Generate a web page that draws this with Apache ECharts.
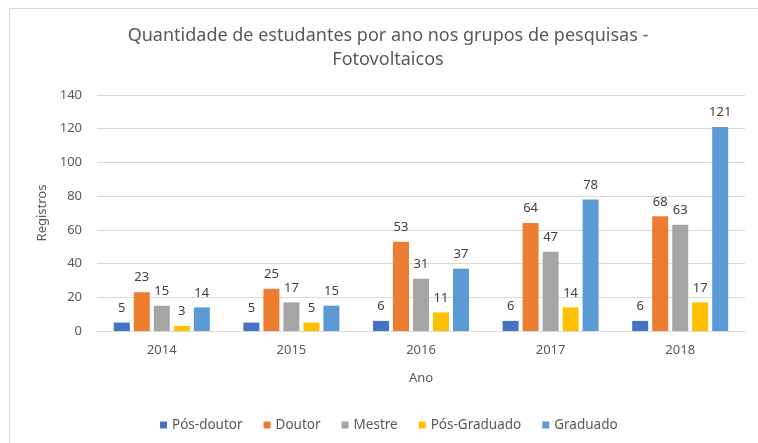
<!DOCTYPE html>
<html lang="pt">
<head>
    <meta charset="UTF-8">
    <script src="https://cdn.jsdelivr.net/npm/echarts@6/dist/echarts.min.js"></script>
    <title>Fotovoltaicos</title>
    <style type="text/css">
        body { margin: 0; background: #fff; }
        #chart { width: 758px; height: 443px; }
    </style>
</head>
<body>
<div id="chart"></div>
<script type="text/javascript">
    // dados
    const anos = ['2014', '2015', '2016', '2017', '2018'];
    const posDoutor = [5, 5, 6, 6, 6];
    const doutor = [23, 25, 53, 64, 68];
    const mestre = [15, 17, 31, 47, 63];
    const posGraduado = [3, 5, 11, 14, 17];
    const graduado = [14, 15, 37, 78, 121];

    const nomes = ['Pós-doutor', 'Doutor', 'Mestre', 'Pós-Graduado', 'Graduado'];
    const valores = [posDoutor, doutor, mestre, posGraduado, graduado];
    const cores = ['#4472C4', '#ED7D31', '#A5A5A5', '#FFC000', '#5B9BD5'];

    const fonte = '"Noto Sans", sans-serif';
    const cinza = '#595959';

    const series = [];
    for (let i = 0; i < nomes.length; i++) {
        series.push({
            name: nomes[i],
            type: 'bar',
            data: valores[i],
            barWidth: 16,
            barGap: '25%',
            itemStyle: { color: cores[i] },
            label: {
                show: true,
                position: 'top',
                distance: 8,
                color: '#404040',
                fontSize: 13,
                fontFamily: fonte
            }
        });
    }

    const myChart = echarts.init(document.getElementById('chart'));
    const option = {
        animation: false,
        backgroundColor: '#fff',
        title: {
            text: 'Quantidade de estudantes por ano nos grupos de pesquisas -\nFotovoltaicos',
            left: 383,
            top: 19,
            textAlign: 'center',
            textStyle: {
                color: cinza,
                fontSize: 18,
                fontWeight: 'normal',
                fontFamily: fonte,
                lineHeight: 24
            }
        },
        legend: {
            data: nomes,
            bottom: 6,
            left: 155,
            icon: 'rect',
            itemWidth: 7,
            itemHeight: 7,
            itemGap: 21,
            textStyle: { color: cinza, fontSize: 13.5, fontFamily: fonte }
        },
        grid: { left: 97, right: 13, top: 95, bottom: 112 },
        xAxis: {
            type: 'category',
            data: anos,
            name: 'Ano',
            nameLocation: 'middle',
            nameGap: 41,
            nameTextStyle: { color: cinza, fontSize: 13, fontFamily: fonte },
            axisLine: { lineStyle: { color: '#d9d9d9' } },
            axisTick: { show: false },
            axisLabel: { color: cinza, fontSize: 13, fontFamily: fonte, margin: 13 }
        },
        yAxis: {
            type: 'value',
            min: 0,
            max: 140,
            interval: 20,
            name: 'Registros',
            nameLocation: 'middle',
            nameGap: 48,
            nameTextStyle: { color: cinza, fontSize: 13, fontFamily: fonte },
            axisLine: { show: false },
            axisTick: { show: false },
            splitLine: { lineStyle: { color: '#d9d9d9' } },
            axisLabel: { color: cinza, fontSize: 13, fontFamily: fonte, margin: 15 }
        },
        graphic: [{
            type: 'polyline',
            silent: true,
            shape: { points: [[9.5, 443], [9.5, 8.5], [758, 8.5]] },
            style: { stroke: '#d9d9d9', fill: null, lineWidth: 1 }
        }],
        series: series
    };
    myChart.setOption(option);
</script>
</body>
</html>
